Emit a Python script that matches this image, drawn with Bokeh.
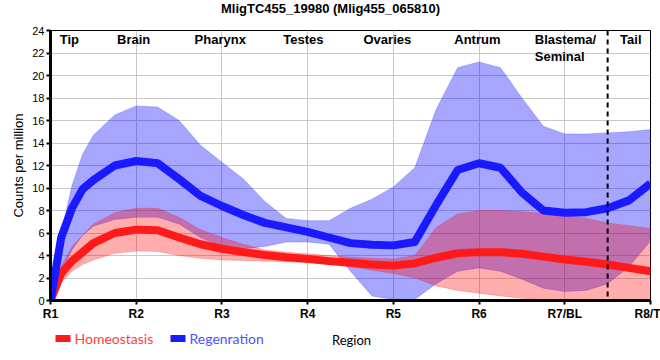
from bokeh.plotting import figure
from bokeh.layouts import column
from bokeh.models import FixedTicker, Span
from bokeh.embed import file_html
from bokeh.resources import INLINE
from bokeh.core.properties import value

# ---- data ----
pos = [1, 1.125, 1.25, 1.375, 1.5, 1.75, 2, 2.25, 2.5, 2.75, 3, 3.25, 3.5, 3.75, 4,
       4.25, 4.5, 4.75, 5, 5.25, 5.5, 5.75, 6, 6.25, 6.5, 6.75, 7, 7.25, 7.5, 7.75, 8]

homeo_mean = [0, 2.4, 3.5, 4.3, 5.1, 6.0, 6.3, 6.25, 5.6, 5.0, 4.6, 4.3, 4.05, 3.85, 3.7,
              3.5, 3.35, 3.2, 3.1, 3.3, 3.8, 4.2, 4.3, 4.3, 4.15, 3.9, 3.65, 3.45, 3.2, 2.9, 2.6]
homeo_upper = [0, 3.0, 4.8, 5.8, 6.8, 7.8, 8.2, 8.2, 7.4, 6.3, 5.6, 5.0, 4.5, 4.3, 4.15,
               4.0, 3.85, 3.75, 3.7, 4.0, 6.5, 7.7, 8.0, 8.0, 7.9, 7.75, 7.6, 7.3, 6.9, 6.65, 6.4]
homeo_lower = [0, 1.6, 2.6, 3.2, 3.6, 4.2, 4.4, 4.35, 4.0, 3.75, 3.6, 3.55, 3.5, 3.45, 3.35,
               3.25, 3.0, 2.7, 2.4, 2.0, 1.3, 0.9, 0.65, 0.4, 0.2, 0.05, 0, 0, 0, 0, 0]

regen_mean = [0, 5.6, 8.2, 9.9, 10.7, 12.0, 12.4, 12.2, 10.8, 9.3, 8.4, 7.6, 6.9, 6.5, 6.1,
              5.6, 5.1, 4.95, 4.9, 5.2, 8.5, 11.6, 12.2, 11.8, 9.6, 8.0, 7.8, 7.85, 8.2, 8.9, 10.4]
regen_upper = [0, 6.0, 10.2, 13.0, 14.7, 16.5, 17.3, 17.2, 16.0, 13.8, 12.3, 10.8, 8.8, 7.3, 7.1,
               7.1, 8.2, 9.0, 10.1, 11.8, 17.0, 20.7, 21.2, 20.7, 18.0, 15.5, 14.8, 14.8, 14.9, 15.0, 15.2]
regen_lower = [0, 2.5, 4.5, 5.8, 6.6, 7.2, 7.4, 7.4, 6.8, 5.6, 4.8, 4.6, 4.8, 5.2, 5.2,
               5.0, 2.6, 0.4, 0.1, 0.1, 1.5, 2.6, 2.9, 2.6, 1.9, 1.1, 0.8, 0.9, 1.5, 3.0, 5.3]

tick_pos = [1, 2, 3, 4, 5, 6, 7, 8]
tick_labels = ["R1", "R2", "R3", "R4", "R5", "R6", "R7/BL", "R8/T"]
y_ticks = [0, 2, 4, 6, 8, 10, 12, 14, 16, 18, 20, 22, 24]

region_names = ["Tip", "Brain", "Pharynx", "Testes", "Ovaries", "Antrum", "Tail"]
region_x = [1.22, 1.97, 2.98, 3.95, 4.93, 5.98, 7.77]
blastema_text = "Blastema/\nSeminal"
tail_boundary = 7.5

title_text = "MligTC455_19980 (Mlig455_065810)"
x_title = "Region"
y_title = "Counts per million"
series_names = ["Homeostasis", "Regenration"]
series_line_colors = ["#ff1a1a", "#1a1aff"]
series_text_colors = ["#ff4040", "#5050ff"]

FONT = "Liberation Sans"
BL, BR = 50, 10  # left / right borders shared by all strips (frames are aligned)


def strip(height, y_top):
    f = figure(width=660, height=height, x_range=(BL, 660 - BR), y_range=(y_top + height, y_top),
               output_backend="svg", toolbar_location=None, x_axis_type=None, y_axis_type=None,
               min_border_left=BL, min_border_right=BR, min_border_top=0, min_border_bottom=0)
    f.outline_line_color = None
    f.grid.visible = False
    f.background_fill_color = "white"
    f.border_fill_color = "white"
    return f


# ---- top strip: title (pixel coordinates) ----
p0 = strip(22, 0)
p0.text(x=[330], y=[8], text=[title_text], text_color="black",
        text_font=value(FONT), text_font_style="bold", text_font_size="13px",
        text_align="center", text_baseline="middle")

# ---- main chart ----
p = figure(width=660, height=308, x_range=(1, 8), y_range=(0, 24),
           output_backend="svg", toolbar_location=None,
           min_border_left=BL, min_border_right=BR, min_border_top=8, min_border_bottom=30)

p.varea(x=pos, y1=regen_lower, y2=regen_upper, fill_color="blue", fill_alpha=0.35)
p.line(pos, regen_upper, line_color="blue", line_alpha=0.2, line_width=1)
p.line(pos, regen_lower, line_color="blue", line_alpha=0.2, line_width=1)
p.varea(x=pos, y1=homeo_lower, y2=homeo_upper, fill_color="red", fill_alpha=0.32)
p.line(pos, homeo_upper, line_color="red", line_alpha=0.2, line_width=1)
p.line(pos, homeo_lower, line_color="red", line_alpha=0.2, line_width=1)

p.line(pos, homeo_mean, line_color=series_line_colors[0], line_width=8, line_join="round")
p.line(pos, regen_mean, line_color=series_line_colors[1], line_width=8, line_join="round")

p.add_layout(Span(location=tail_boundary, dimension="height", line_color="black",
                  line_width=2, line_dash="5 4"))

p.text(x=region_x, y=[23.87] * len(region_x), text=region_names,
       text_font=value(FONT), text_font_style="bold", text_font_size="13px",
       text_align="center", text_baseline="top", text_color="black")
p.text(x=[6.65], y=[23.87], text=[blastema_text],
       text_font=value(FONT), text_font_style="bold", text_font_size="13px",
       text_align="left", text_baseline="top", text_color="black", text_line_height=1.15)

p.xaxis.ticker = FixedTicker(ticks=tick_pos)
p.xaxis.major_label_overrides = {t: l for t, l in zip(tick_pos, tick_labels)}
p.yaxis.ticker = FixedTicker(ticks=y_ticks)
p.yaxis.axis_label = y_title
for ax in (p.xaxis, p.yaxis):
    ax.axis_line_width = 3
    ax.axis_line_color = "black"
    ax.major_tick_out = 4
    ax.major_tick_in = 0
    ax.major_tick_line_width = 2
    ax.minor_tick_line_color = None
    ax.major_label_text_font = FONT
    ax.major_label_text_color = "black"
    ax.axis_label_text_font = FONT
    ax.axis_label_text_font_style = "normal"
    ax.axis_label_text_font_size = "13px"
    ax.axis_label_text_color = "black"
    ax.major_label_standoff = 2
    ax.axis_label_standoff = 3
p.xaxis.major_label_text_font_style = "bold"
p.xaxis.major_label_text_font_size = "12px"
p.yaxis.major_label_text_font_size = "11px"

p.xgrid.grid_line_color = "#c8c8c8"
p.ygrid.grid_line_color = "#c8c8c8"
p.outline_line_color = "black"
p.outline_line_width = 1
p.background_fill_color = "white"
p.border_fill_color = "white"

# ---- bottom strip: legend + x-axis title (pixel coordinates) ----
p2 = strip(30, 322)
p2.rect(x=[62.5, 177.5], y=[330, 330], width=15, height=7,
        fill_color=series_line_colors, line_color=None)
p2.text(x=[74, 189], y=[330, 330], text=series_names, text_color=series_text_colors,
        text_font=value("Lato"), text_font_size="14px", text_align="left",
        text_baseline="middle")
p2.text(x=[351], y=[331], text=[x_title], text_color="black",
        text_font=value("Lato"), text_font_size="13px", text_align="center",
        text_baseline="middle")

layout = column(p0, p, p2, spacing=0)
open("out.html", "w").write(file_html(layout, INLINE))
